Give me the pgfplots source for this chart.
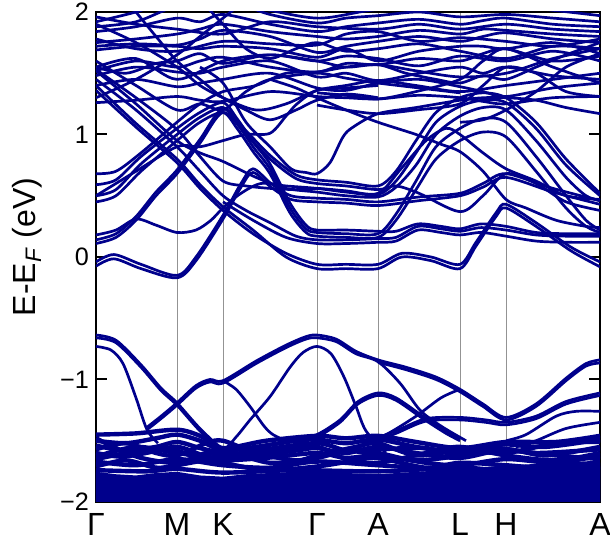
\documentclass[border=0pt]{standalone}
\usepackage{fontspec}
\setmainfont{Liberation Sans}
\usepackage{pgfplots}
\pgfplotsset{compat=1.18}
\definecolor{bandblue}{RGB}{0,0,140}
\begin{document}
\begin{tikzpicture}
\begin{axis}[
 scale only axis, width=252pt, height=245pt,
 xmin=0, xmax=504, ymin=-2, ymax=2,
 xtick={0,81,127,221,282,364,410,504},
 xticklabels={Γ,M,K,Γ,A,L,H,A},
 x tick label style={font=\fontsize{16}{18}\selectfont, yshift=-2pt},
 major x tick style={draw=none},
 xmajorgrids, grid style={gray!85, line width=0.45pt},
 ytick={-2,-1,0,1,2},
 yticklabels={−2,−1,0,1,2},
 y tick label style={font=\fontsize{12.6}{15}\selectfont},
 ytick pos=both, yticklabel pos=left, ytick align=inside,
 major tick length=5.5pt,
 y tick style={black, line width=1pt},
 axis line style={line width=1pt},
 ylabel={E-E\textsubscript{\textit{F}} (eV)},
 ylabel style={font=\fontsize{16}{18}\selectfont, xshift=5pt, yshift=2pt},
 band/.style={bandblue, line width=1.35pt, smooth, tension=0.5},
 dband/.style={bandblue, line width=2.2pt, smooth, tension=0.5},
]
% ---- dense valence region (filled)
\addplot[fill=bandblue, draw=bandblue, line width=0.8pt, sharp plot] coordinates {(0,-2.1) (0,-1.76) (20,-1.78) (40,-1.79) (60,-1.77) (81,-1.76) (104,-1.79) (127,-1.8) (150,-1.78) (174,-1.77) (200,-1.76) (221,-1.75) (250,-1.77) (282,-1.78) (320,-1.76) (364,-1.74) (387,-1.75) (410,-1.76) (457,-1.75) (504,-1.72) (504,-2.1)} -- cycle;
\addplot[dband] coordinates {(0,-1.45) (40,-1.44) (81,-1.41) (104,-1.46) (127,-1.56) (170,-1.5) (221,-1.46) (250,-1.48) (282,-1.46) (320,-1.51) (364,-1.56) (410,-1.51) (460,-1.51) (504,-1.46)};
\addplot[dband] coordinates {(0,-1.5) (30,-1.52) (60,-1.48) (81,-1.45) (104,-1.5) (127,-1.58) (160,-1.55) (200,-1.5) (221,-1.49) (250,-1.52) (282,-1.49) (320,-1.55) (364,-1.6) (390,-1.55) (410,-1.53) (450,-1.55) (504,-1.49)};
\addplot[dband] coordinates {(0,-1.54) (30,-1.58) (60,-1.55) (81,-1.51) (104,-1.56) (127,-1.6) (160,-1.62) (200,-1.58) (221,-1.56) (250,-1.6) (282,-1.55) (320,-1.6) (364,-1.64) (410,-1.57) (450,-1.62) (504,-1.55)};
\addplot[dband] coordinates {(0,-1.6) (25,-1.63) (50,-1.6) (81,-1.55) (110,-1.63) (127,-1.66) (170,-1.64) (221,-1.6) (250,-1.64) (282,-1.62) (330,-1.68) (364,-1.7) (410,-1.65) (460,-1.68) (504,-1.62)};
\addplot[dband] coordinates {(0,-1.67) (40,-1.7) (81,-1.65) (127,-1.7) (174,-1.72) (221,-1.67) (282,-1.7) (364,-1.74) (410,-1.72) (504,-1.68)};
\addplot[dband] coordinates {(0,-1.57) (30,-1.52) (60,-1.6) (81,-1.62) (110,-1.52) (127,-1.5) (160,-1.6) (200,-1.66) (221,-1.62) (260,-1.55) (282,-1.52) (320,-1.62) (364,-1.58) (410,-1.6) (460,-1.52) (504,-1.51)};
\addplot[dband] coordinates {(0,-1.63) (40,-1.55) (81,-1.6) (127,-1.64) (180,-1.58) (221,-1.55) (250,-1.65) (282,-1.68) (330,-1.6) (364,-1.55) (410,-1.62) (460,-1.66) (504,-1.6)};
\addplot[dband] coordinates {(0,-1.71) (30,-1.66) (60,-1.72) (81,-1.7) (110,-1.66) (127,-1.68) (170,-1.74) (221,-1.71) (260,-1.66) (282,-1.64) (330,-1.72) (364,-1.68) (410,-1.7) (460,-1.73) (504,-1.7)};
\addplot[dband] coordinates {(0,-1.74) (50,-1.75) (81,-1.73) (127,-1.76) (200,-1.74) (282,-1.75) (364,-1.72) (410,-1.74) (504,-1.71)};
\addplot[dband] coordinates {(0,-1.48) (20,-1.56) (45,-1.64) (81,-1.68) (110,-1.6) (127,-1.62) (170,-1.57) (221,-1.52) (250,-1.58) (282,-1.6) (320,-1.66) (364,-1.62) (400,-1.56) (440,-1.6) (504,-1.57)};
\addplot[dband] coordinates {(0,-1.65) (30,-1.6) (60,-1.56) (81,-1.58) (104,-1.64) (127,-1.58) (174,-1.68) (221,-1.64) (250,-1.58) (282,-1.57) (330,-1.56) (364,-1.62) (410,-1.58) (460,-1.62) (504,-1.65)};
% ---- upper valence bands
\addplot[band] coordinates {(0,-0.637) (20,-0.68) (45,-0.88) (65,-1.07) (81,-1.19) (104,-1.40) (127,-1.56) (140,-1.47) (154,-1.33) (174,-1.14) (194,-0.9) (207,-0.78) (221,-0.73) (235,-0.79) (248,-0.98) (260,-1.22) (270,-1.42) (290,-1.6)};
\addplot[band] coordinates {(0,-0.66) (20,-0.70) (45,-0.9) (65,-1.09) (81,-1.21) (104,-1.42) (127,-1.58) (145,-1.62)};
\addplot[band] coordinates {(0,-0.73) (15,-0.76) (27,-0.87) (40,-1.15) (51,-1.41) (62,-1.52)};
\addplot[band] coordinates {(51,-1.39) (65,-1.3) (81,-1.19) (100,-1.05) (114,-1.0) (127,-1.01) (160,-0.85) (190,-0.72) (210,-0.65) (221,-0.637) (240,-0.67) (260,-0.77) (282,-0.84) (310,-0.9) (340,-0.98) (364,-1.08) (387,-1.2) (410,-1.31) (440,-1.2) (470,-0.99) (490,-0.87) (504,-0.84)};
\addplot[band] coordinates {(51,-1.41) (65,-1.32) (81,-1.21) (100,-1.07) (114,-1.02) (127,-1.03) (160,-0.87) (190,-0.74) (210,-0.67) (221,-0.66) (240,-0.69) (260,-0.79) (282,-0.855) (304,-1.03) (324,-1.25) (345,-1.38) (370,-1.5)};
\addplot[band] coordinates {(282,-0.86) (310,-0.92) (340,-1.0) (364,-1.10) (387,-1.22) (410,-1.33) (440,-1.22) (470,-1.01) (490,-0.89) (504,-0.865)};
\addplot[band] coordinates {(127,-1.01) (140,-1.08) (154,-1.22) (168,-1.38) (177,-1.45) (190,-1.5)};
\addplot[band] coordinates {(200,-1.5) (221,-1.45) (244,-1.33) (262,-1.18) (282,-1.11) (300,-1.15) (327,-1.3) (350,-1.42) (364,-1.48)};
\addplot[band] coordinates {(200,-1.52) (221,-1.47) (244,-1.35) (262,-1.2) (282,-1.13) (300,-1.17) (327,-1.32) (350,-1.44) (364,-1.5)};
\addplot[band] coordinates {(270,-1.5) (290,-1.45) (320,-1.3) (345,-1.15) (364,-1.08)};
\addplot[band] coordinates {(280,-1.48) (300,-1.42) (330,-1.32) (364,-1.31) (390,-1.33) (410,-1.35) (440,-1.3) (470,-1.18) (504,-1.11)};
\addplot[band] coordinates {(280,-1.5) (300,-1.44) (330,-1.34) (364,-1.33) (390,-1.35) (410,-1.37) (440,-1.32) (470,-1.2) (504,-1.13)};
\addplot[band] coordinates {(410,-1.5) (430,-1.45) (460,-1.3) (480,-1.26) (504,-1.26)};
\addplot[band] coordinates {(420,-1.55) (440,-1.5) (470,-1.4) (504,-1.35)};
% ---- conduction bands
\addplot[band] coordinates {(0,-0.04) (18,0.02) (45,-0.06) (81,-0.15) (100,0.0) (127,0.34) (145,0.6) (157,0.72) (175,0.6) (195,0.5) (221,0.48) (250,0.47) (282,0.45) (323,0.49) (364,0.52) (387,0.6) (410,0.68) (457,0.56) (504,0.46)};
\addplot[band] coordinates {(0,-0.075) (18,-0.015) (45,-0.095) (81,-0.17) (100,-0.03) (127,0.31) (145,0.57) (157,0.69) (175,0.57) (195,0.47) (221,0.45) (250,0.44) (282,0.42) (323,0.46) (364,0.5) (387,0.57) (410,0.65) (457,0.53) (504,0.43)};
\addplot[band] coordinates {(0,1.36) (40,1.06) (81,0.77) (104,0.56) (127,0.38) (157,0.19) (190,0.03) (221,-0.06) (250,-0.06) (282,-0.06) (306,0.03) (335,0.0) (364,-0.06) (380,0.12) (400,0.36) (410,0.43) (440,0.28) (475,0.08) (504,-0.04)};
\addplot[band] coordinates {(0,1.40) (40,1.09) (81,0.8) (104,0.59) (127,0.41) (157,0.22) (190,0.0) (221,-0.095) (250,-0.095) (282,-0.095) (306,0.0) (335,-0.03) (364,-0.095) (380,0.09) (400,0.33) (410,0.40) (440,0.25) (475,0.05) (504,-0.08)};
\addplot[band] coordinates {(0,0.18) (20,0.22) (40,0.31) (60,0.26) (81,0.2) (100,0.22) (115,0.3) (127,0.4) (145,0.52) (165,0.6) (190,0.58) (221,0.56) (250,0.53) (282,0.51) (300,0.62) (320,0.85) (340,1.1) (364,1.23) (387,1.28) (410,1.26) (440,1.05) (470,0.75) (504,0.5)};
\addplot[band] coordinates {(0,0.11) (20,0.16) (40,0.3) (60,0.5) (81,0.68) (104,0.93) (127,1.18) (150,1.0) (174,0.8) (200,0.64) (221,0.6) (250,0.58) (282,0.55) (300,0.58) (323,0.52) (364,0.37) (387,0.5) (410,0.68) (440,0.6) (470,0.45) (504,0.38)};
\addplot[band] coordinates {(0,0.14) (20,0.19) (40,0.33) (60,0.53) (81,0.71) (104,0.96) (127,1.21) (150,1.03) (174,0.83) (200,0.67) (221,0.63) (250,0.61) (282,0.58) (300,0.7) (320,0.95) (340,1.18) (364,1.3) (387,1.34) (410,1.3) (440,1.1) (470,0.8) (504,0.52)};
\addplot[band] coordinates {(0,0.45) (20,0.5) (45,0.7) (81,0.95) (104,1.1) (127,1.18) (141,1.05) (158,0.85) (174,0.68) (194,0.36) (210,0.2) (221,0.17) (250,0.16) (282,0.16) (300,0.3) (320,0.55) (340,0.8) (364,0.95) (387,1.02) (410,0.98) (440,0.7) (470,0.4) (490,0.25) (504,0.2)};
\addplot[band] coordinates {(0,0.5) (20,0.55) (45,0.76) (81,1.0) (104,1.14) (127,1.22) (141,1.09) (158,0.89) (174,0.72) (194,0.4) (210,0.23) (221,0.2) (250,0.19) (282,0.19) (300,0.35) (320,0.62) (340,0.9) (364,1.05) (387,1.13) (410,1.1) (440,0.82) (470,0.5) (490,0.3) (504,0.22)};
\addplot[band] coordinates {(0,0.59) (20,0.63) (45,0.82) (81,1.05) (104,1.18) (127,1.26) (141,1.13) (158,0.93) (174,0.76) (194,0.44) (210,0.26) (221,0.22) (250,0.22) (282,0.21) (300,0.21) (322,0.27) (345,0.25) (364,0.23) (385,0.27) (410,0.25) (440,0.2) (470,0.19) (504,0.19)};
\addplot[band] coordinates {(0,1.52) (40,1.25) (81,0.95) (104,0.85) (127,0.78) (160,0.65) (190,0.56) (221,0.53) (250,0.5) (282,0.49) (300,0.57) (320,0.75) (340,1.0) (364,1.15) (387,1.22) (410,1.2) (440,0.95) (470,0.65) (490,0.5) (504,0.46)};
\addplot[band] coordinates {(0,1.53) (40,1.3) (81,1.04) (104,0.82) (127,0.62) (150,0.58) (174,0.56) (200,0.55) (221,0.56) (250,0.54) (282,0.52) (305,0.72) (330,0.95) (350,1.05) (364,1.0) (387,0.85) (410,0.72) (440,0.62) (470,0.5) (504,0.47)};
\addplot[band] coordinates {(127,0.45) (157,0.3) (190,0.16) (221,0.11) (250,0.11) (282,0.12) (300,0.13) (322,0.22) (345,0.2) (364,0.18) (385,0.2) (410,0.17) (440,0.13) (470,0.12) (504,0.12)};
\addplot[band] coordinates {(0,1.45) (40,1.2) (81,0.9) (104,0.7) (127,0.5) (150,0.38) (174,0.28) (200,0.17) (221,0.14) (250,0.14) (282,0.15) (300,0.16) (322,0.25) (345,0.23) (364,0.21) (385,0.24) (410,0.22) (440,0.18) (470,0.17) (504,0.17)};
\addplot[band] coordinates {(0,0.68) (20,0.7) (45,0.85) (81,1.1) (104,1.25) (127,1.35) (160,1.4) (190,1.5) (221,1.51) (250,1.55) (282,1.57) (320,1.52) (364,1.47) (410,1.5) (457,1.62) (504,1.7)};
\addplot[band] coordinates {(104,1.55) (127,1.42) (150,1.1) (174,0.9) (195,0.72) (210,0.69) (221,0.68) (234,0.77) (247,0.98) (257,1.06) (282,1.17) (320,1.22) (364,1.28) (387,1.3) (410,1.3) (440,1.28) (470,1.22) (504,1.17)};
\addplot[band] coordinates {(0,0.5) (40,0.7) (81,0.9) (104,0.9) (127,0.95) (150,1.0) (174,1.01) (190,1.15) (201,1.25) (221,1.36) (250,1.38) (282,1.4)};
\addplot[band] coordinates {(174,1.45) (200,1.38) (221,1.3) (250,1.2) (282,1.1) (320,1.0) (345,0.92) (364,0.86) (387,0.7) (410,0.47) (430,0.4) (460,0.3) (490,0.25) (504,0.24)};
% ---- upper region
\addplot[band] coordinates {(0,1.26) (40,1.28) (81,1.31) (104,1.28) (127,1.27) (174,1.35) (221,1.31) (250,1.3) (282,1.29) (323,1.32) (364,1.3) (387,1.27) (410,1.25) (457,1.3) (504,1.31)};
\addplot[band] coordinates {(0,1.40) (40,1.45) (81,1.39) (104,1.42) (127,1.45) (174,1.5) (221,1.38) (250,1.36) (282,1.42) (323,1.45) (364,1.39) (387,1.35) (410,1.31) (457,1.38) (504,1.42)};
\addplot[band] coordinates {(0,1.48) (40,1.55) (81,1.51) (104,1.5) (127,1.55) (174,1.6) (221,1.47) (250,1.5) (282,1.44) (323,1.5) (364,1.55) (387,1.5) (410,1.55) (457,1.48) (504,1.45)};
\addplot[band] coordinates {(0,1.52) (40,1.6) (81,1.55) (104,1.6) (127,1.63) (174,1.55) (221,1.51) (250,1.58) (282,1.57) (323,1.62) (364,1.6) (387,1.66) (410,1.7) (457,1.6) (504,1.64)};
\addplot[band] coordinates {(0,1.55) (30,1.5) (60,1.58) (81,1.6) (104,1.66) (127,1.58) (174,1.65) (221,1.6) (250,1.64) (282,1.62) (323,1.56) (364,1.64) (410,1.6) (457,1.68) (504,1.6)};
\addplot[band] coordinates {(0,1.69) (40,1.72) (81,1.72) (104,1.7) (127,1.72) (174,1.7) (221,1.63) (250,1.7) (282,1.6) (323,1.68) (364,1.72) (387,1.72) (410,1.7) (457,1.75) (504,1.66)};
\addplot[band] coordinates {(0,1.72) (40,1.74) (81,1.73) (104,1.78) (127,1.85) (174,1.8) (221,1.67) (250,1.72) (282,1.76) (323,1.8) (364,1.76) (387,1.8) (410,1.83) (457,1.78) (504,1.75)};
\addplot[band] coordinates {(0,1.75) (40,1.78) (81,1.82) (104,1.86) (127,1.9) (174,1.84) (221,1.8) (250,1.78) (282,1.8) (323,1.85) (364,1.82) (387,1.86) (410,1.85) (457,1.82) (504,1.8)};
\addplot[band] coordinates {(0,1.78) (40,1.7) (81,1.68) (127,1.76) (174,1.74) (221,1.73) (250,1.82) (282,1.84) (323,1.76) (364,1.79) (410,1.76) (457,1.72) (504,1.78)};
\addplot[band] coordinates {(0,1.84) (40,1.88) (81,1.95) (104,1.92) (127,1.98) (174,1.9) (221,1.84) (250,1.88) (282,1.91) (323,1.94) (364,1.9) (387,1.93) (410,1.95) (457,1.9) (504,1.88)};
\addplot[band] coordinates {(0,1.88) (40,1.92) (81,2.05) (127,2.1) (174,1.98) (221,1.91) (250,1.95) (282,1.97) (323,2.0) (364,1.96) (410,1.98) (457,1.95) (504,1.92)};
\addplot[band] coordinates {(0,1.92) (40,2.0) (81,2.1) (150,2.05) (221,1.95) (282,2.02) (364,2.02) (410,2.05) (504,1.97)};
\addplot[band] coordinates {(0,1.96) (40,1.9) (81,1.86) (127,1.82) (174,1.92) (221,1.88) (282,1.86) (323,1.9) (364,1.86) (410,1.9) (457,1.86) (504,1.84)};
\addplot[band] coordinates {(0,1.9) (40,1.75) (81,1.55) (104,1.4) (127,1.3) (160,1.2) (190,1.25) (221,1.36) (250,1.4) (282,1.44) (320,1.4) (364,1.35) (410,1.4) (457,1.45) (504,1.5)};
\addplot[band] coordinates {(0,1.3) (40,1.45) (81,1.65) (104,1.8) (127,1.95) (150,2.1)};
\addplot[band] coordinates {(30,2.1) (60,1.8) (81,1.6) (104,1.45) (127,1.3) (150,1.2) (174,1.12) (200,1.2) (221,1.28) (250,1.33) (282,1.3)};
\addplot[band] coordinates {(0,1.6) (40,1.4) (81,1.2) (104,1.25) (127,1.2) (150,1.35) (174,1.45) (221,1.5) (250,1.46) (282,1.42) (323,1.38) (364,1.34)};
\addplot[band] coordinates {(221,1.24) (250,1.2) (282,1.17) (320,1.2) (364,1.25) (387,1.4) (410,1.55) (440,1.5) (470,1.35) (504,1.31)};
\addplot[band] coordinates {(221,1.34) (250,1.32) (282,1.29) (320,1.35) (364,1.45) (387,1.6) (410,1.7) (457,1.55) (504,1.42)};
\addplot[band] coordinates {(364,1.1) (387,1.12) (410,1.2) (440,1.35) (470,1.55) (504,1.66)};
\addplot[band] coordinates {(0,1.55) (40,1.62) (81,1.45) (127,1.6) (174,1.65) (221,1.6) (250,1.55) (282,1.57) (310,1.5) (340,1.45) (364,1.42) (387,1.48) (410,1.45) (440,1.55) (470,1.65) (504,1.75)};
\addplot[band] coordinates {(104,2.1) (127,1.9) (150,1.7) (174,1.62) (200,1.7) (221,1.75) (250,1.68) (282,1.7) (323,1.74) (364,1.68) (410,1.62) (457,1.72) (504,1.7)};
\end{axis}
\pgfresetboundingbox
\path[use as bounding box] ([xshift=-48pt,yshift=-23pt]current axis.south west) rectangle ([xshift=5pt,yshift=6pt]current axis.north east);
\end{tikzpicture}
\end{document}
